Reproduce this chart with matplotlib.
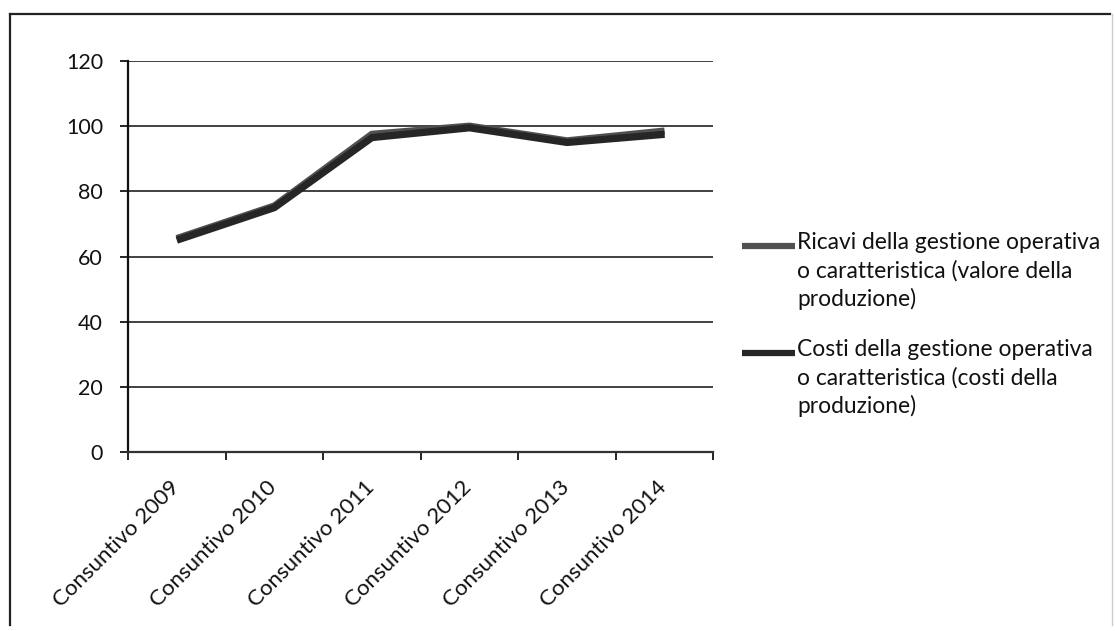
import matplotlib.pyplot as plt
from matplotlib.lines import Line2D
from matplotlib.transforms import ScaledTranslation
import numpy as np

plt.rcParams['font.family'] = ['Lato', 'DejaVu Sans']

anni = ['Consuntivo 2009', 'Consuntivo 2010', 'Consuntivo 2011',
        'Consuntivo 2012', 'Consuntivo 2013', 'Consuntivo 2014']
ricavi = [65.5, 75.5, 97.5, 100.0, 95.5, 98.5]
costi = [65.0, 75.0, 96.5, 99.5, 95.0, 97.5]
etichette = ['Ricavi della gestione operativa\no caratteristica (valore della\nproduzione)',
             'Costi della gestione operativa\no caratteristica (costi della\nproduzione)']
colori = ['#505050', '#262626']

fig = plt.figure(figsize=(11.15, 6.31), dpi=100)
ax = fig.add_axes([0.1148, 0.2837, 0.525, 0.6196])

x = np.arange(len(anni))
ax.plot(x, ricavi, color=colori[0], lw=5.2, solid_capstyle='butt', zorder=3)
ax.plot(x, costi, color=colori[1], lw=5.2, solid_capstyle='butt', zorder=3)

ax.set_xlim(-0.5, len(anni) - 0.5)
ax.set_ylim(0, 120)
ax.set_yticks(range(0, 121, 20))
ax.yaxis.grid(True, color='#333333', lw=1.3)
ax.set_axisbelow(True)

# category ticks sit between the categories, like Excel
ax.set_xticks(np.arange(-0.5, len(anni)), minor=False)
ax.set_xticklabels([])
ax.set_xticks(x, minor=True)
ax.set_xticklabels(anni, minor=True, rotation=45, ha='right',
                   rotation_mode='anchor', fontsize=16, color='#111111')
ax.tick_params(axis='x', which='minor', length=0, pad=18)
ax.tick_params(axis='x', which='major', length=6, width=1.2, direction='out')
ax.tick_params(axis='y', length=6, width=1.2, direction='out', pad=12,
               labelsize=15.5, labelcolor='#111111')
sposta = ScaledTranslation(-8 / 100, 0, fig.dpi_scale_trans)
for t in ax.get_xticklabels(minor=True):
    t.set_transform(t.get_transform() + sposta)

for s in ['top', 'right']:
    ax.spines[s].set_visible(False)
ax.spines['left'].set_linewidth(1.6)
ax.spines['bottom'].set_linewidth(1.6)
ax.spines['left'].set_color('#111111')
ax.spines['bottom'].set_color('#333333')

# legend drawn by hand so the key lines up with the first text line
W, H = 1115, 631
for i, (lab, col) in enumerate(zip(etichette, colori)):
    yy = 1 - (246 + i * 107) / H
    fig.add_artist(Line2D([742 / W, 795 / W], [yy, yy], color=col, lw=4.5,
                          solid_capstyle='butt'))
    fig.text(797 / W, yy + 14 / H, lab, fontsize=16.4, va='top', ha='left',
             color='#111111', linespacing=1.38)

# frame of the scanned chart
fig.add_artist(Line2D([10 / W, 1110 / W], [1 - 14 / H, 1 - 14 / H], color='#222222', lw=1.6))
fig.add_artist(Line2D([10 / W, 10 / W], [1 - 14 / H, 1 - 625 / H], color='#222222', lw=1.6))
fig.add_artist(Line2D([1112 / W, 1112 / W], [1 - 14 / H, 1 - 625 / H], color='#cccccc', lw=1))

fig.savefig('out.png', dpi=100, facecolor='white')
